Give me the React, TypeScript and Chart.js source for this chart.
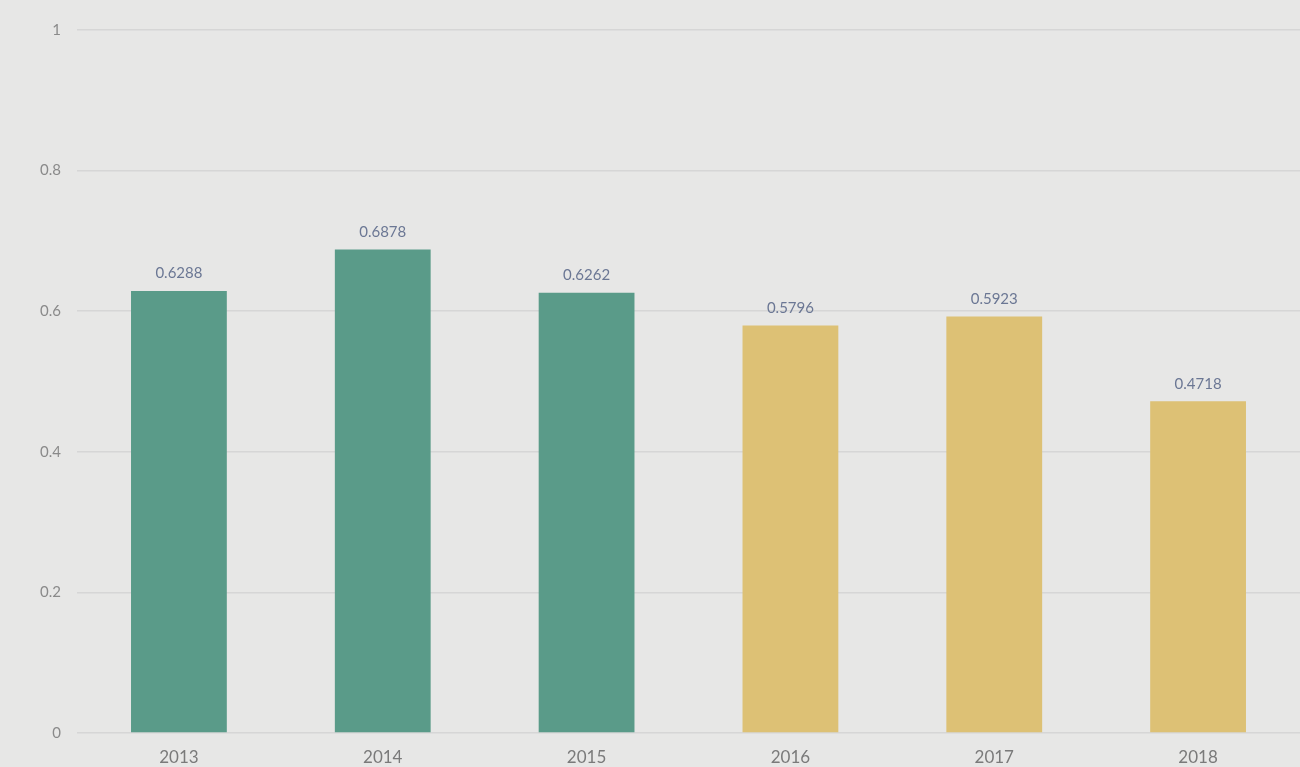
import React, { useEffect, useRef } from "react";
import { Chart, registerables } from "chart.js";

Chart.register(...registerables);

const categories = ["2013", "2014", "2015", "2016", "2017", "2018"];
const values = [0.6288, 0.6878, 0.6262, 0.5796, 0.5923, 0.4718];
const valueLabels = ["0.6288", "0.6878", "0.6262", "0.5796", "0.5923", "0.4718"];
const barColors = ["#5a9b89", "#5a9b89", "#5a9b89", "#ddc175", "#ddc175", "#ddc175"];
const yTicks = [0, 0.2, 0.4, 0.6, 0.8, 1];

const valueLabelPlugin = {
  id: "valueLabels",
  afterDatasetsDraw(chart: any) {
    const ctx = chart.ctx;
    const meta = chart.getDatasetMeta(0);
    ctx.save();
    ctx.font = "15px Lato";
    ctx.fillStyle = "#6b7794";
    ctx.textAlign = "center";
    ctx.textBaseline = "bottom";
    meta.data.forEach((bar: any, i: number) => {
      ctx.fillText(valueLabels[i], bar.x, bar.y - 10);
    });
    ctx.restore();
  },
};

export default function App() {
  const ref = useRef<HTMLCanvasElement>(null);
  useEffect(() => {
    document.body.style.margin = "0";
    const chart = new Chart(ref.current!, {
      type: "bar",
      data: {
        labels: categories,
        datasets: [
          {
            data: values,
            backgroundColor: barColors,
            barPercentage: 0.47,
            categoryPercentage: 1,
          },
        ],
      },
      options: {
        animation: false,
        responsive: false,
        maintainAspectRatio: false,
        layout: { padding: { top: 30, right: 0, bottom: 0, left: 0 } },
        plugins: { legend: { display: false }, tooltip: { enabled: false } },
        scales: {
          x: {
            grid: { display: false },
            border: { display: false },
            ticks: { color: "#7a7a7a", font: { family: "Lato", size: 17 }, padding: 6 },
            afterFit: (s: any) => {
              s.height = 34;
            },
          },
          y: {
            min: 0,
            max: 1,
            afterBuildTicks: (s: any) => {
              s.ticks = yTicks.map((v) => ({ value: v }));
            },
            grid: { color: "#d6d6d6", lineWidth: 1.5, drawTicks: false },
            border: { display: false },
            ticks: {
              color: "#8a8a8a",
              font: { family: "Lato", size: 15 },
              padding: 16,
              callback: (v: any) => String(Math.round(v * 10) / 10),
            },
            afterFit: (s: any) => {
              s.width = 77;
            },
          },
        },
      },
      plugins: [valueLabelPlugin],
    });
    return () => chart.destroy();
  }, []);
  return (
    <div style={{ width: 1300, height: 767, background: "#e7e7e6" }}>
      <canvas ref={ref} width={1300} height={767} />
    </div>
  );
}
